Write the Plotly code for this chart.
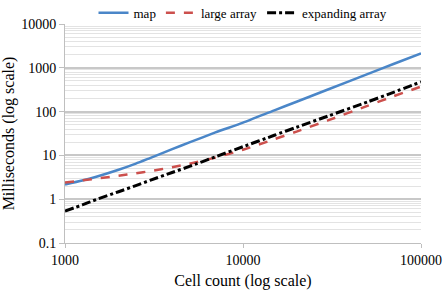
import plotly.graph_objects as go

cell_count = [1000, 1250, 1500, 2000, 2500, 3000, 4000, 5000, 7000, 10000,
              15000, 20000, 30000, 50000, 70000, 100000]
map_ms = [2.17, 2.67, 3.26, 4.7, 6.5, 8.7, 13.9, 19.8, 33.5, 56,
          107, 168, 320, 715, 1220, 2140]
large_array_ms = [2.4, 2.69, 2.95, 3.43, 3.89, 4.37, 5.37, 6.46, 8.9, 13.5,
                  23.4, 35, 63, 135, 224, 372]
expanding_array_ms = [0.537, 0.74, 0.98, 1.48, 2.04, 2.69, 4.07, 5.6, 9.3, 15.8,
                      28.8, 44, 79, 166, 275, 479]

y_ticks = [0.1, 1, 10, 100, 1000, 10000]
y_tick_labels = ["0.1", "1", "10", "100", "1000", "10000"]
x_ticks = [1000, 10000, 100000]
x_tick_labels = ["1000", "10000", "100000"]

minor_y = [m * 10 ** e for e in range(-1, 4) for m in range(2, 10)]

FONT = "Liberation Serif, DejaVu Serif, serif"

fig = go.Figure()
fig.add_trace(go.Scatter(x=cell_count, y=map_ms, name="map", mode="lines",
                         line=dict(color="#4A86C8", width=2.5, shape="spline", smoothing=0.6)))
fig.add_trace(go.Scatter(x=cell_count, y=large_array_ms, name="large array", mode="lines",
                         line=dict(color="#CC504D", width=2.5, dash="dash", shape="spline", smoothing=0.6)))
fig.add_trace(go.Scatter(x=cell_count, y=expanding_array_ms, name="expanding array", mode="lines",
                         line=dict(color="#000000", width=3, dash="dashdot", shape="spline", smoothing=0.6)))

fig.update_layout(
    width=444, height=295,
    margin=dict(l=65, r=23, t=24, b=52, autoexpand=False),
    paper_bgcolor="white", plot_bgcolor="white",
    font=dict(family=FONT, size=14, color="#000000"),
    showlegend=True,
    legend=dict(orientation="h", x=0.5, xanchor="center", yref="paper", y=1.12, yanchor="top",
                font=dict(family=FONT, size=13), bgcolor="rgba(0,0,0,0)", itemwidth=30,
                tracegroupgap=0),
    xaxis=dict(type="log", range=[3, 5], tickvals=x_ticks, ticktext=x_tick_labels,
               showgrid=False, showline=True, linecolor="#BFBFBF", linewidth=1,
               ticks="outside", ticklen=4, tickcolor="#BFBFBF",
               tickfont=dict(family=FONT, size=14), automargin=False,
               title=dict(text="Cell count (log scale)", font=dict(family=FONT, size=16), standoff=8),
               zeroline=False),
    yaxis=dict(type="log", range=[-1, 4], tickvals=y_ticks, ticktext=y_tick_labels,
               showgrid=True, gridcolor="#C8C8C8", gridwidth=1.5,
               showline=True, linecolor="#BFBFBF", linewidth=1,
               ticks="outside", ticklen=5, tickcolor="#BFBFBF",
               tickfont=dict(family=FONT, size=14), automargin=False,
               minor=dict(tickvals=minor_y, showgrid=True, gridcolor="#E3E3E3", gridwidth=1, ticks=""),
               title=dict(text="Milliseconds (log scale)", font=dict(family=FONT, size=16), standoff=4),
               zeroline=False),
)

fig.write_html("out.html", config={"displayModeBar": False},
               post_script="document.body.style.margin='0px';")
